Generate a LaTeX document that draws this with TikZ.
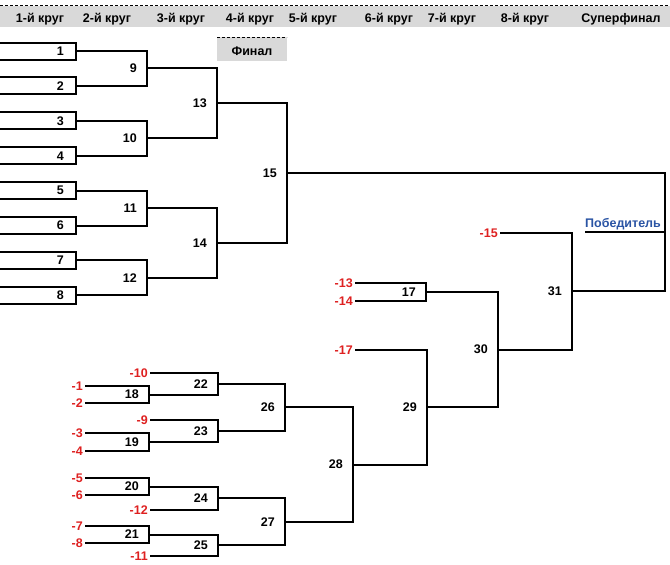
\documentclass[tikz,border=0pt]{standalone}
\usepackage{fontspec}
\setmainfont{Liberation Sans}
\usetikzlibrary{calc}

\definecolor{bandgray}{RGB}{217,217,217}
\definecolor{lossred}{RGB}{222,32,32}
\definecolor{winblue}{RGB}{42,84,164}

\begin{document}
\begin{tikzpicture}[x=1pt,y=-1pt,
	wire/.style={line width=2pt},
	num/.style={anchor=east,inner sep=0pt,xshift=-10pt,font=\bfseries\fontsize{12.5}{14}\selectfont},
	loss/.style={anchor=east,inner sep=0pt,xshift=-2pt,text=lossred,font=\bfseries\fontsize{12.5}{14}\selectfont},
	head/.style={anchor=base,inner sep=0pt,font=\bfseries\fontsize{12.5}{14}\selectfont},
	pagebreak/.style={line width=1pt,dash pattern=on 3pt off 2pt}]

\useasboundingbox (0,0) rectangle (670,565);

% rounds
\fill [bandgray] (0,6) rectangle (670,27);
\draw [pagebreak] (0,5) -- (670,5);
\foreach \x/\t [count=\i] in {40/1-й круг, 107/2-й круг, 181/3-й круг, 250/4-й круг, 313/5-й круг, 389/6-й круг, 452/7-й круг, 525/8-й круг, 621/Суперфинал}
	{
	\node [head] (hd\i) at (\x,22) {\t};
	}
\fill [bandgray] (217,37) rectangle (287,61);
\draw [pagebreak] (217,37) -- (287,37);
\node [head] (fin) at (252,55) {Финал};

% upper bracket
\foreach \i in {1,...,8}
	{
	\pgfmathsetmacro{\y}{51+34.9*(\i-1)}
	\coordinate (e\i) at (76,\y);
	\draw [wire] (0,\y-8.5) -- (76,\y-8.5) -- (76,\y+8.5) -- (0,\y+8.5);
	\node [num,xshift=-2pt] (n\i) at (e\i) {\i};
	}

\coordinate (m9) at (147,68.45);
\coordinate (m10) at (147,138.25);
\coordinate (m11) at (147,208.05);
\coordinate (m12) at (147,277.85);
\coordinate (m13) at (217,103.35);
\coordinate (m14) at (217,242.95);
\coordinate (m15) at (287,173.15);

\draw [wire] (e1) -| (m9) |- (e2);
\draw [wire] (e3) -| (m10) |- (e4);
\draw [wire] (e5) -| (m11) |- (e6);
\draw [wire] (e7) -| (m12) |- (e8);
\draw [wire] (m9) -| (m13) |- (m10);
\draw [wire] (m11) -| (m14) |- (m12);
\draw [wire] (m13) -| (m15) |- (m14);

\foreach \k in {9,...,15}
	{
	\node [num] (n\k) at (m\k) {\k};
	}

% lower bracket
\foreach \n/\x/\y in {1/85/386, 2/85/403, 3/85/433, 4/85/451, 5/85/478, 6/85/495, 7/85/526, 8/85/543, 10/150/373, 9/150/420, 12/150/510, 11/150/556, 13/355/283, 14/355/301, 17/355/350, 15/500/233}
	{
	\coordinate (l\n) at (\x,\y);
	\node [loss] (ln\n) at (l\n) {-\n};
	}

\coordinate (m18) at (149,394.5);
\coordinate (m19) at (149,442);
\coordinate (m20) at (149,486.5);
\coordinate (m21) at (149,534.5);
\coordinate (m22) at (218,383.75);
\coordinate (m23) at (218,431);
\coordinate (m24) at (218,498.25);
\coordinate (m25) at (218,545.25);
\coordinate (m26) at (285,407.4);
\coordinate (m27) at (285,521.75);
\coordinate (m28) at (353,464.6);
\coordinate (m29) at (427,407.3);
\coordinate (m17) at (426,292);
\coordinate (m30) at (498,349.65);
\coordinate (m31) at (572,291.3);

\draw [wire] (l1) -| (m18) |- (l2);
\draw [wire] (l3) -| (m19) |- (l4);
\draw [wire] (l5) -| (m20) |- (l6);
\draw [wire] (l7) -| (m21) |- (l8);
\draw [wire] (l10) -| (m22) |- (m18);
\draw [wire] (l9) -| (m23) |- (m19);
\draw [wire] (m20) -| (m24) |- (l12);
\draw [wire] (m21) -| (m25) |- (l11);
\draw [wire] (m22) -| (m26) |- (m23);
\draw [wire] (m24) -| (m27) |- (m25);
\draw [wire] (m26) -| (m28) |- (m27);
\draw [wire] (l17) -| (m29) |- (m28);
\draw [wire] (l13) -| (m17) |- (l14);
\draw [wire] (m17) -| (m30) |- (m29);
\draw [wire] (l15) -| (m31) |- (m30);

\foreach \k in {17,...,31}
	{
	\node [num] (n\k) at (m\k) {\k};
	}

% superfinal
\coordinate (sf) at (665,232.2);
\coordinate (win) at (585,232.2);
\draw [wire] (m15) -| (sf) |- (m31);
\draw [wire] (sf) -- (win);
\node [anchor=base west,inner sep=0pt,text=winblue,font=\bfseries\fontsize{12.5}{14}\selectfont] (winner) at (585,227) {Победитель};

\end{tikzpicture}
\end{document}
